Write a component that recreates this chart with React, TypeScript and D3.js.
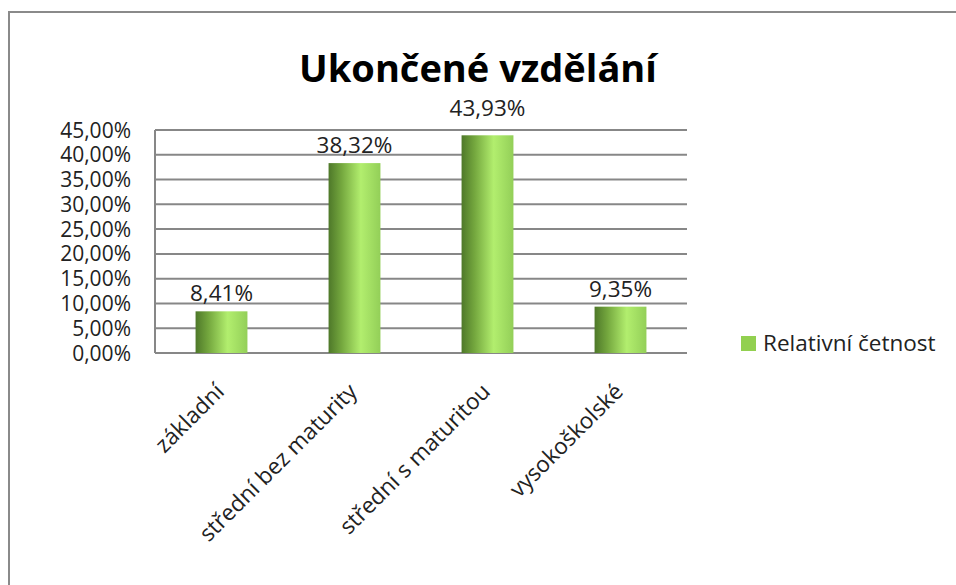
import React from "react";
import * as d3 from "d3";

const categories = ["základní", "střední bez maturity", "střední s maturitou", "vysokoškolské"];
const values = [8.41, 38.32, 43.93, 9.35];
const yTicks = [0, 5, 10, 15, 20, 25, 30, 35, 40, 45];
const seriesName = "Relativní četnost";
const title = "Ukončené vzdělání";

const W = 956;
const H = 585;
const plot = { left: 155, right: 687, top: 130, bottom: 353 };
const FONT = "'Open Sans', sans-serif";
const fmt = (v: number) => v.toFixed(2).replace(".", ",") + "%";

export default function App() {
  const x = d3
    .scaleBand<string>()
    .domain(categories)
    .range([plot.left, plot.right])
    .paddingInner(0.61)
    .paddingOuter(0.305);
  const y = d3.scaleLinear().domain([0, 45]).range([plot.bottom, plot.top]);
  const grey = "#878787";

  return (
    <svg
      width={W}
      height={H}
      style={{ position: "absolute", left: 0, top: 0, background: "#fff" }}
      fontFamily={FONT}
    >
      <defs>
        <linearGradient id="barGrad" x1="0" x2="1" y1="0" y2="0">
          <stop offset="0" stopColor="#4e7829" />
          <stop offset="0.25" stopColor="#74a73e" />
          <stop offset="0.62" stopColor="#b2ee6e" />
          <stop offset="1" stopColor="#93cf58" />
        </linearGradient>
      </defs>
      <rect x={9} y={12} width={W + 20} height={H + 20} fill="#fff" stroke="#8a8a8a" strokeWidth={2} />
      <text x={478} y={82} textAnchor="middle" fontSize={38} fontWeight="bold" fill="#000">
        {title}
      </text>
      {yTicks.map((t) => (
        <g key={t}>
          <line x1={plot.left} x2={plot.right} y1={y(t)} y2={y(t)} stroke={grey} strokeWidth={2} />
          <text x={131} y={y(t)} dy="0.36em" textAnchor="end" fontSize={21} fill="#222">
            {fmt(t)}
          </text>
        </g>
      ))}
      <line x1={plot.left} x2={plot.left} y1={plot.top} y2={plot.bottom} stroke={grey} strokeWidth={2} />
      {categories.map((c, i) => {
        const bx = x(c)!;
        const top = y(values[i]);
        const ly = top - 10 > plot.top + 5 ? top - 10 : plot.top - 14;
        return (
          <g key={c}>
            <rect x={bx} y={top} width={x.bandwidth()} height={plot.bottom - top} fill="url(#barGrad)" />
            <text x={bx + x.bandwidth() / 2} y={ly} textAnchor="middle" fontSize={22.5} fill="#222">
              {fmt(values[i])}
            </text>
          </g>
        );
      })}
      {categories.map((c) => {
        const cx = x(c)! + x.bandwidth() / 2;
        return (
          <text
            key={"l" + c}
            transform={`translate(${cx + 4},${393}) rotate(-45)`}
            textAnchor="end"
            fontSize={22.5}
            fill="#222"
          >
            {c}
          </text>
        );
      })}
      <rect x={741} y={336} width={15} height={15} fill="#92d050" />
      <text x={763} y={351} fontSize={22.5} fill="#222">
        {seriesName}
      </text>
    </svg>
  );
}
